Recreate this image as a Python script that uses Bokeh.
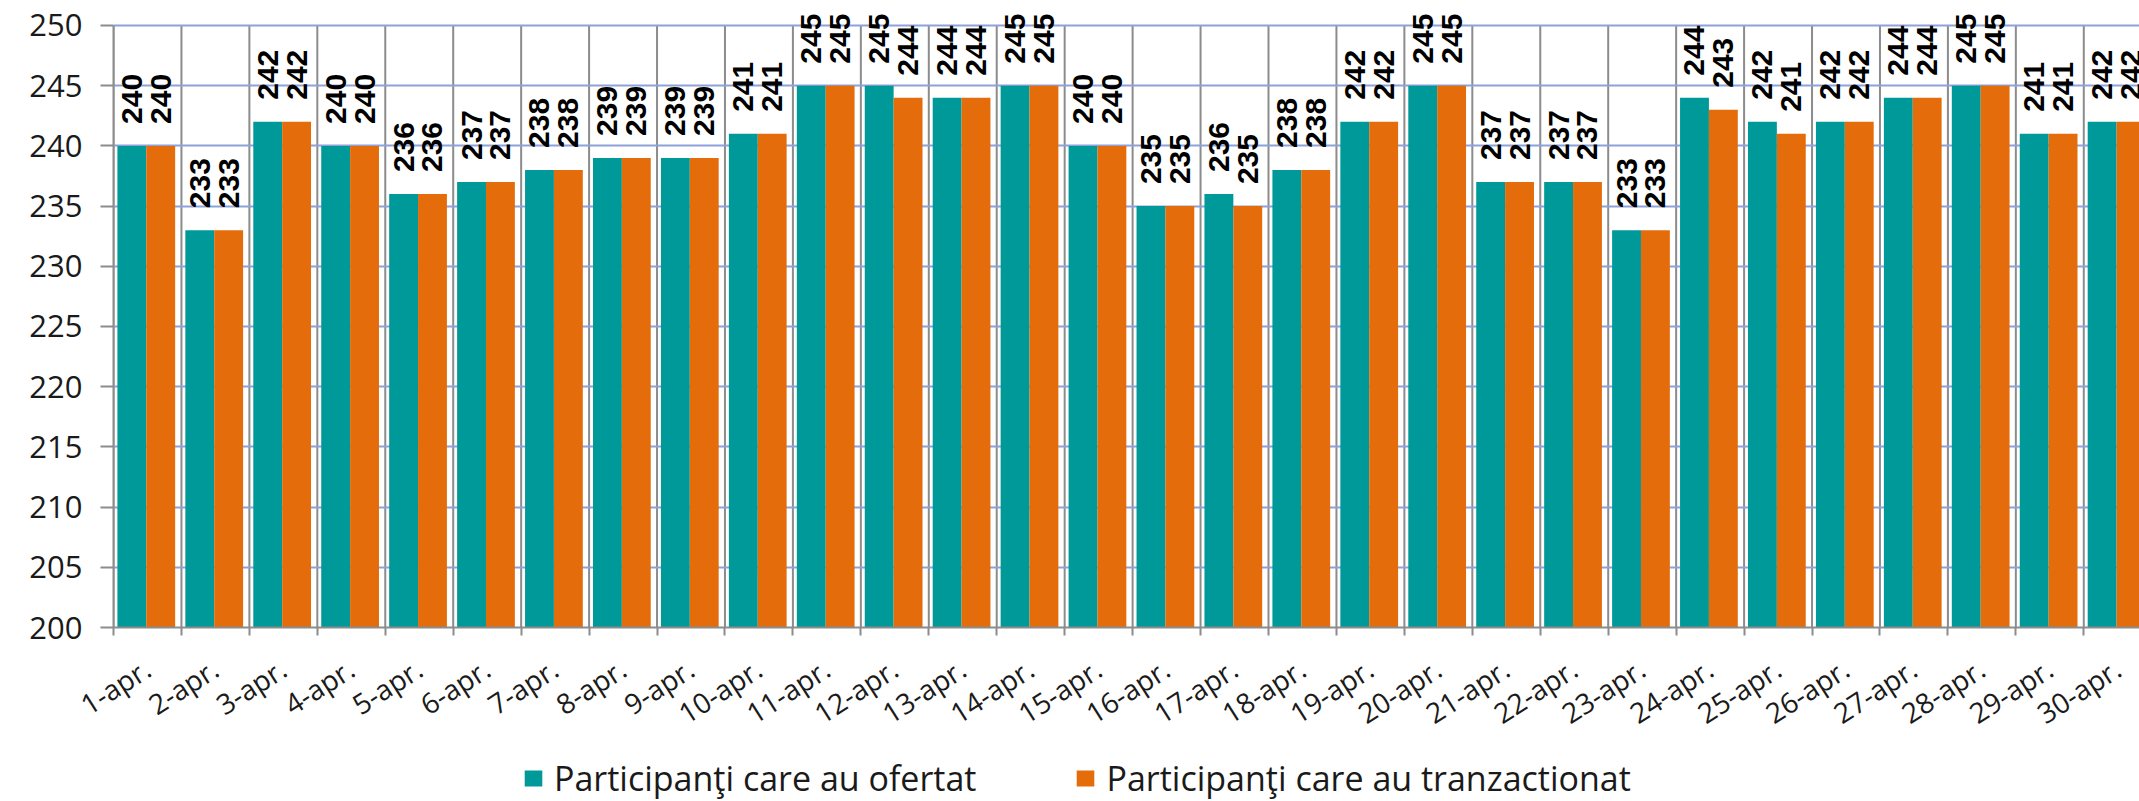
import math
import numpy as np
from bokeh.plotting import figure
from bokeh.layouts import column
from bokeh.models import (ColumnDataSource, Range1d, FixedTicker, LabelSet,
                          Legend, LegendItem)
from bokeh.core.properties import value
from bokeh.embed import file_html
from bokeh.resources import INLINE

# ---------------- data ----------------
days = [f"{d}-apr." for d in range(1, 31)]
ofertat = [240, 233, 242, 240, 236, 237, 238, 239, 239, 241,
           245, 245, 244, 245, 240, 235, 236, 238, 242, 245,
           237, 237, 233, 244, 242, 242, 244, 245, 241, 242]
tranzactionat = [240, 233, 242, 240, 236, 237, 238, 239, 239, 241,
                 245, 244, 244, 245, 240, 235, 235, 238, 242, 245,
                 237, 237, 233, 243, 241, 242, 244, 245, 241, 242]
series_names = ["Participanţi care au ofertat", "Participanţi care au tranzactionat"]
y_ticks = list(range(200, 251, 5))
y_min, y_max = 200, 250

# ---------------- styling ----------------
TEAL = "#009999"
ORANGE = "#E46C0A"
GRID_BLUE = "#8EA2DA"
GRID_GRAY = "#8C8C8C"

idx = np.arange(len(days))
boundaries = [i - 0.5 for i in range(len(days) + 1)]
src = ColumnDataSource(dict(
    x1=idx - 0.23, x2=idx + 0.195,
    ofertat=ofertat, tranzactionat=tranzactionat,
    t1=[str(v) for v in ofertat], t2=[str(v) for v in tranzactionat],
))

p = figure(width=2139, height=755, output_backend="svg", toolbar_location=None,
           x_range=Range1d(-0.5, 29.32), y_range=Range1d(y_min, 251.41),
           min_border_left=113, min_border_right=0, min_border_top=8,
           min_border_bottom=128)
p.outline_line_color = None
p.background_fill_color = "white"
p.border_fill_color = "white"

# vertical separators between days (category boundaries)
p.segment(x0=boundaries, y0=y_min, x1=boundaries, y1=y_max,
          line_color=GRID_GRAY, line_width=2, level="underlay")

r1 = p.vbar(x="x1", top="ofertat", bottom=y_min, width=0.425, source=src,
            fill_color=TEAL, line_color=None)
r2 = p.vbar(x="x2", top="tranzactionat", bottom=y_min, width=0.425, source=src,
            fill_color=ORANGE, line_color=None)

for xcol, ycol, tcol in (("x1", "ofertat", "t1"), ("x2", "tranzactionat", "t2")):
    p.add_layout(LabelSet(x=xcol, y=ycol, text=tcol, source=src,
                          angle=math.pi / 2, text_align="left",
                          text_baseline="middle", y_offset=22,
                          text_font=value("Liberation Sans"),
                          text_font_style="bold", text_font_size="30px",
                          text_color="black"))

# x axis
p.xaxis.ticker = FixedTicker(ticks=list(range(len(days))), minor_ticks=boundaries)
p.xaxis.major_label_overrides = {i: d for i, d in enumerate(days)}
p.xaxis.major_label_orientation = 0.57
p.xaxis.major_tick_line_color = None
p.xaxis.major_tick_out = 8
p.xaxis.major_tick_in = 0
p.xaxis.minor_tick_line_color = GRID_GRAY
p.xaxis.minor_tick_line_width = 2
p.xaxis.minor_tick_out = 8
p.xaxis.minor_tick_in = 0
p.xaxis.axis_line_color = GRID_GRAY
p.xaxis.axis_line_width = 2
p.xaxis.major_label_standoff = 30
p.xaxis.major_label_text_font = "Open Sans"
p.xaxis.major_label_text_font_size = "28px"
p.xaxis.major_label_text_color = "#1a1a1a"

# y axis
p.yaxis.ticker = FixedTicker(ticks=y_ticks)
p.yaxis.bounds = (y_min, y_max)
p.yaxis.minor_tick_line_color = None
p.yaxis.major_tick_out = 13
p.yaxis.major_tick_in = 0
p.yaxis.major_tick_line_color = GRID_GRAY
p.yaxis.major_tick_line_width = 2
p.yaxis.axis_line_color = GRID_GRAY
p.yaxis.axis_line_width = 2
p.yaxis.major_label_standoff = 18
p.yaxis.major_label_text_font = "Open Sans"
p.yaxis.major_label_text_font_size = "31px"
p.yaxis.major_label_text_color = "#1a1a1a"

# grids
p.xgrid.grid_line_color = None
p.ygrid.ticker = FixedTicker(ticks=y_ticks)
p.ygrid.grid_line_color = GRID_BLUE
p.ygrid.grid_line_width = 2

# ---------------- legend strip ----------------
pl = figure(width=2139, height=46, output_backend="svg", toolbar_location=None,
            x_range=Range1d(0, 1), y_range=Range1d(0, 1),
            x_axis_location=None, y_axis_location=None, min_border=0)
pl.outline_line_color = None
pl.background_fill_color = None
pl.border_fill_color = None
pl.grid.visible = False
# zero-size swatch renderers: only their legend glyphs are visible
l1 = pl.vbar(x=[0.5], top=[0], bottom=[0], width=0, fill_color=TEAL, line_color=None)
l2 = pl.vbar(x=[0.5], top=[0], bottom=[0], width=0, fill_color=ORANGE, line_color=None)
legend = Legend(items=[LegendItem(label=series_names[0], renderers=[l1]),
                       LegendItem(label=series_names[1], renderers=[l2])],
                location=(409, 0), orientation="horizontal",
                padding=0, margin=0, spacing=98,
                glyph_width=22, glyph_height=20, label_standoff=10,
                border_line_color=None, background_fill_alpha=0,
                label_text_font="Open Sans", label_text_font_size="34px",
                label_text_color="#1a1a1a")
pl.add_layout(legend, "center")

layout = column(p, pl, spacing=0)
open("out.html", "w").write(file_html(layout, INLINE))
